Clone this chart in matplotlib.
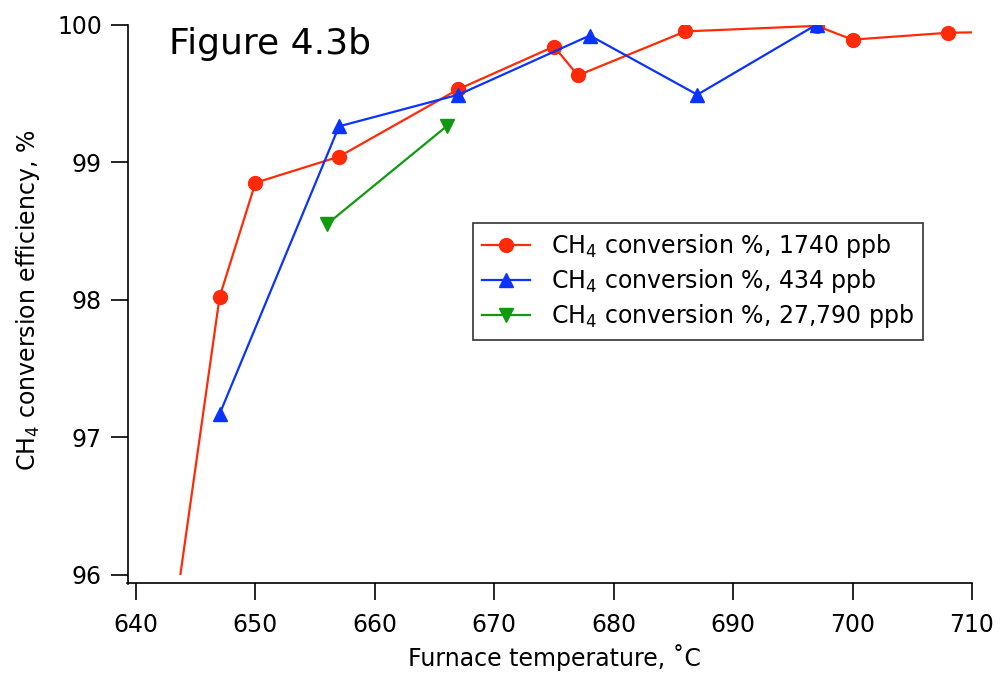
import matplotlib
matplotlib.use("Agg")
import matplotlib.pyplot as plt

plt.rcParams['font.family'] = ['DejaVu Sans']

# CH4 conversion, 1740 ppb (first and last points fall outside the plotted range)
temp_1740 = [642.0, 647, 650, 657, 667, 675, 677, 686, 697, 700, 708, 715]
eff_1740 = [94.95, 98.02, 98.85, 99.04, 99.53, 99.84, 99.63, 99.95, 99.99, 99.89, 99.94, 99.95]

# CH4 conversion, 434 ppb
temp_434 = [647, 657, 667, 678, 687, 697]
eff_434 = [97.17, 99.26, 99.49, 99.92, 99.49, 100.0]

# CH4 conversion, 27,790 ppb
temp_27790 = [656, 666]
eff_27790 = [98.55, 99.26]

x_ticks = [640, 650, 660, 670, 680, 690, 700, 710]
y_ticks = [96, 97, 98, 99, 100]

red = '#ff2a08'
blue = '#0a33ff'
green = '#0f9a0f'

fig = plt.figure(figsize=(10.02, 6.75), dpi=100)
ax = fig.add_axes([136 / 1002, 100 / 675, 836 / 1002, 550.5 / 675])

ax.plot(temp_1740, eff_1740, '-o', color=red, lw=1.6, ms=10, label='CH$_4$ conversion %, 1740 ppb')
ax.plot(temp_434, eff_434, '-^', color=blue, lw=1.6, ms=9.5, label='CH$_4$ conversion %, 434 ppb')
ax.plot(temp_27790, eff_27790, '-v', color=green, lw=1.6, ms=9.5, label='CH$_4$ conversion %, 27,790 ppb')

ax.set_xlim(640, 710)
ax.set_ylim(96, 100)
ax.set_xticks(x_ticks)
ax.set_yticks(y_ticks)

# Igor-style offset axes that still meet at the corner
for side in ['top', 'right']:
    ax.spines[side].set_visible(False)
for side in ['left', 'bottom']:
    ax.spines[side].set_position(('outward', 6.0))
    ax.spines[side].set_linewidth(1.2)
ax.spines['left'].set_bounds(96 - 8.5 / 137.6, 100)
ax.spines['bottom'].set_bounds(640 - 8.5 / 11.94, 710)

ax.tick_params(axis='both', direction='out', length=12.5, width=1.2, labelsize=17)
ax.tick_params(axis='x', pad=9)
ax.tick_params(axis='y', pad=6)

ax.set_xlabel('Furnace temperature, ˚C', fontsize=17, labelpad=5)
ax.set_ylabel('CH$_4$ conversion efficiency, %', fontsize=17, labelpad=11)

ax.text(0.04, 0.995, 'Figure 4.3b', transform=ax.transAxes, fontsize=26, va='top', ha='left')

leg = ax.legend(loc='upper left', bbox_to_anchor=(337 / 836, 1 - 198 / 550.5), fontsize=17,
                frameon=True, fancybox=False, edgecolor='black', borderaxespad=0,
                handlelength=2.0, handletextpad=0.9, labelspacing=0.3, borderpad=0.4)
leg.get_frame().set_linewidth(1.2)

fig.savefig('out.png', dpi=100)
